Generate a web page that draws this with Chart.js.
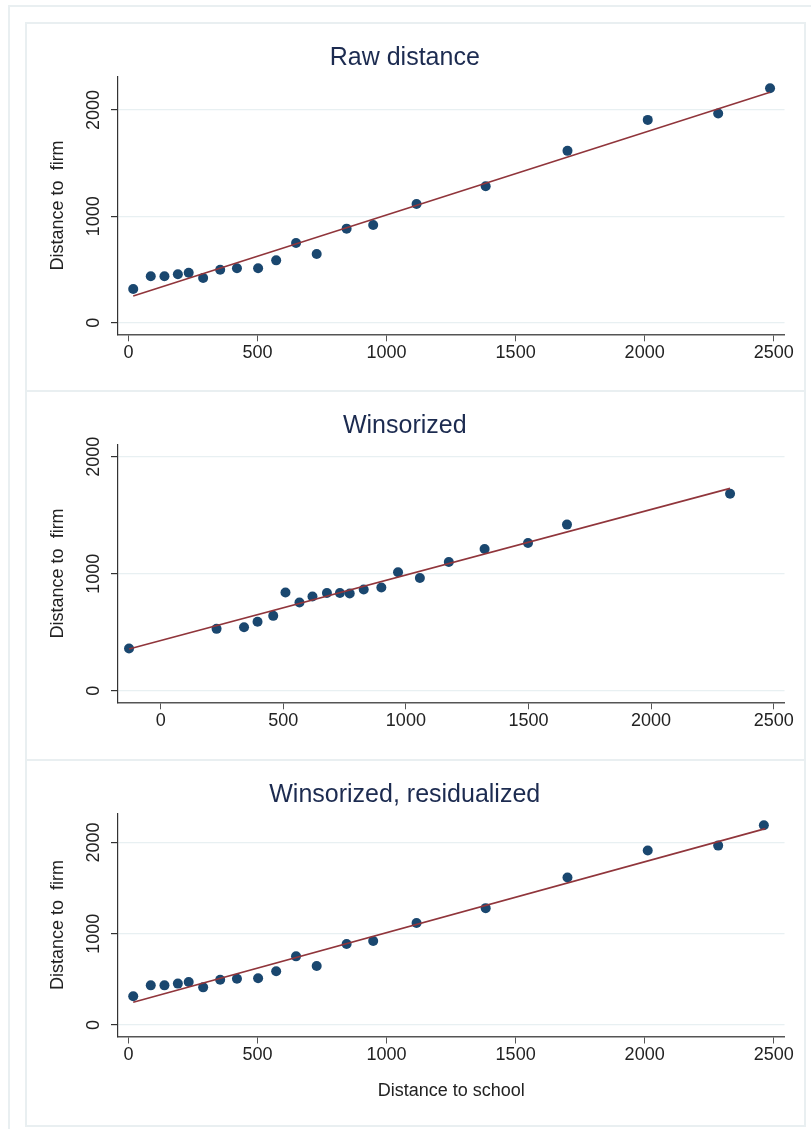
<!DOCTYPE html>
<html>
<head>
<meta charset="utf-8">
<script src="https://cdn.jsdelivr.net/npm/chart.js@4/dist/chart.umd.min.js"></script>
<style>
  html, body { margin: 0; padding: 0; background: #fff; }
  body { width: 811px; height: 1129px; position: relative; overflow: hidden; }
  .frame { position: absolute; left: 8px; top: 5px; width: 820px; height: 1140px;
           border: 2px solid #e9eff1; box-sizing: border-box; }
  .panel { position: absolute; left: 25px; width: 781px; height: 369px;
           border: 2px solid #e9eff1; border-bottom: none; box-sizing: border-box; }
  .panel.last { border-bottom: 2px solid #e9eff1; height: 368px; }
  .panel canvas { position: absolute; left: -2px; top: -2px; }
</style>
</head>
<body>
<div class="frame"></div>
<div class="panel" style="top:22px"><canvas id="rawChart" width="781" height="369"></canvas></div>
<div class="panel" style="top:390px"><canvas id="winChart" width="781" height="369"></canvas></div>
<div class="panel last" style="top:759px"><canvas id="resChart" width="781" height="369"></canvas></div>
<script>
// tick labels
const xTicks = [0, 500, 1000, 1500, 2000, 2500];
const yTicks = [0, 1000, 2000];

// raw distance (binned means)
const rawX = [18, 86, 139, 191, 233, 289, 355, 420, 502, 572, 649, 729, 845, 948, 1116, 1384, 1701, 2012, 2285, 2486];
const rawY = [317, 436, 436, 455, 470, 420, 498, 511, 511, 586, 749, 646, 884, 919, 1116, 1282, 1615, 1906, 1966, 2204];
const rawFitX = [18, 2486];
const rawFitY = [251, 2166];

// winsorized
const winX = [-129, 228, 340, 395, 459, 509, 566, 619, 678, 731, 771, 828, 900, 968, 1057, 1175, 1321, 1498, 1657, 2322];
const winY = [361, 529, 543, 589, 640, 839, 754, 805, 836, 836, 831, 865, 882, 1013, 964, 1101, 1212, 1263, 1420, 1684];
const winFitX = [-129, 2322];
const winFitY = [356, 1730];

// winsorized, residualized
const resX = [18, 86, 139, 191, 233, 289, 355, 420, 502, 572, 649, 729, 845, 948, 1116, 1384, 1701, 2012, 2285, 2462];
const resY = [314, 434, 434, 453, 471, 412, 496, 507, 511, 588, 752, 646, 887, 920, 1117, 1281, 1617, 1913, 1967, 2190];
const resFitX = [18, 2468];
const resFitY = [248, 2153];

const NAVY = '#1a476f';
const MAROON = '#90353b';
const GRID = '#e8f0f2';
const AXIS = '#555555';
const FONT = '"Liberation Sans", Arial, Helvetica, sans-serif';

function toPoints(xs, ys) {
  return xs.map((x, i) => ({ x: x, y: ys[i] }));
}

// rotated y tick labels, like Stata draws them
const yLabelPlugin = {
  id: 'yLabels',
  afterDraw(chart) {
    const scale = chart.scales.y;
    const ctx = chart.ctx;
    ctx.save();
    ctx.fillStyle = '#222';
    ctx.font = '18px ' + FONT;
    ctx.textAlign = 'center';
    ctx.textBaseline = 'middle';
    scale.ticks.forEach(t => {
      const py = scale.getPixelForValue(t.value);
      ctx.save();
      ctx.translate(69, py);
      ctx.rotate(-Math.PI / 2);
      ctx.fillText(String(t.value), 0, 0);
      ctx.restore();
    });
    ctx.restore();
  }
};

function makePanel(id, title, xs, ys, fitX, fitY, xMin, xMax, yMin, yMax, xTitle) {
  const ctx = document.getElementById(id).getContext('2d');
  return new Chart(ctx, {
    type: 'scatter',
    data: {
      datasets: [
        {
          data: toPoints(fitX, fitY),
          showLine: true,
          borderColor: MAROON,
          borderWidth: 1.6,
          pointRadius: 0,
          order: 0
        },
        {
          data: toPoints(xs, ys),
          backgroundColor: NAVY,
          borderColor: NAVY,
          pointRadius: 5,
          pointBorderWidth: 0,
          order: 1
        }
      ]
    },
    options: {
      responsive: false,
      animation: false,
      devicePixelRatio: 1,
      layout: { padding: { left: 0, right: 21.5, top: 0, bottom: 0 } },
      plugins: {
        legend: { display: false },
        tooltip: { enabled: false },
        title: {
          display: true,
          text: title,
          color: '#1c2b50',
          font: { family: FONT, size: 25, weight: 'normal' },
          padding: { top: 21.5, bottom: 3 }
        }
      },
      scales: {
        x: {
          type: 'linear',
          min: xMin,
          max: xMax,
          afterBuildTicks: s => { s.ticks = xTicks.map(v => ({ value: v })); },
          afterFit: s => { s.height = xTitle ? 91.5 : 56.7; },
          border: { color: AXIS, width: 1.4 },
          grid: { drawOnChartArea: false, tickLength: 7, tickColor: AXIS },
          ticks: {
            color: '#222',
            padding: 1,
            maxRotation: 0,
            font: { family: FONT, size: 18 },
            callback: v => String(v)
          },
          title: {
            display: !!xTitle,
            text: xTitle || '',
            color: '#222',
            font: { family: FONT, size: 18 },
            padding: { top: 0, bottom: 26 }
          }
        },
        y: {
          type: 'linear',
          min: yMin,
          max: yMax,
          afterBuildTicks: s => { s.ticks = yTicks.map(v => ({ value: v })); },
          afterFit: s => { s.width = 93; },
          border: { color: '#333', width: 1.2 },
          grid: { color: GRID, lineWidth: 1.2, tickLength: 7, tickColor: '#333' },
          ticks: { display: false },
          title: {
            display: true,
            text: 'Distance to  firm',
            color: '#222',
            font: { family: FONT, size: 18 },
            padding: { top: 22, bottom: 0 }
          }
        }
      }
    },
    plugins: [yLabelPlugin]
  });
}

makePanel('rawChart', 'Raw distance', rawX, rawY, rawFitX, rawFitY, -41, 2542, -109, 2314, null);
makePanel('winChart', 'Winsorized', winX, winY, winFitX, winFitY, -174, 2544, -99, 2105, null);
makePanel('resChart', 'Winsorized, residualized', resX, resY, resFitX, resFitY, -41, 2542, -127, 2319, 'Distance to school');
</script>
</body>
</html>
